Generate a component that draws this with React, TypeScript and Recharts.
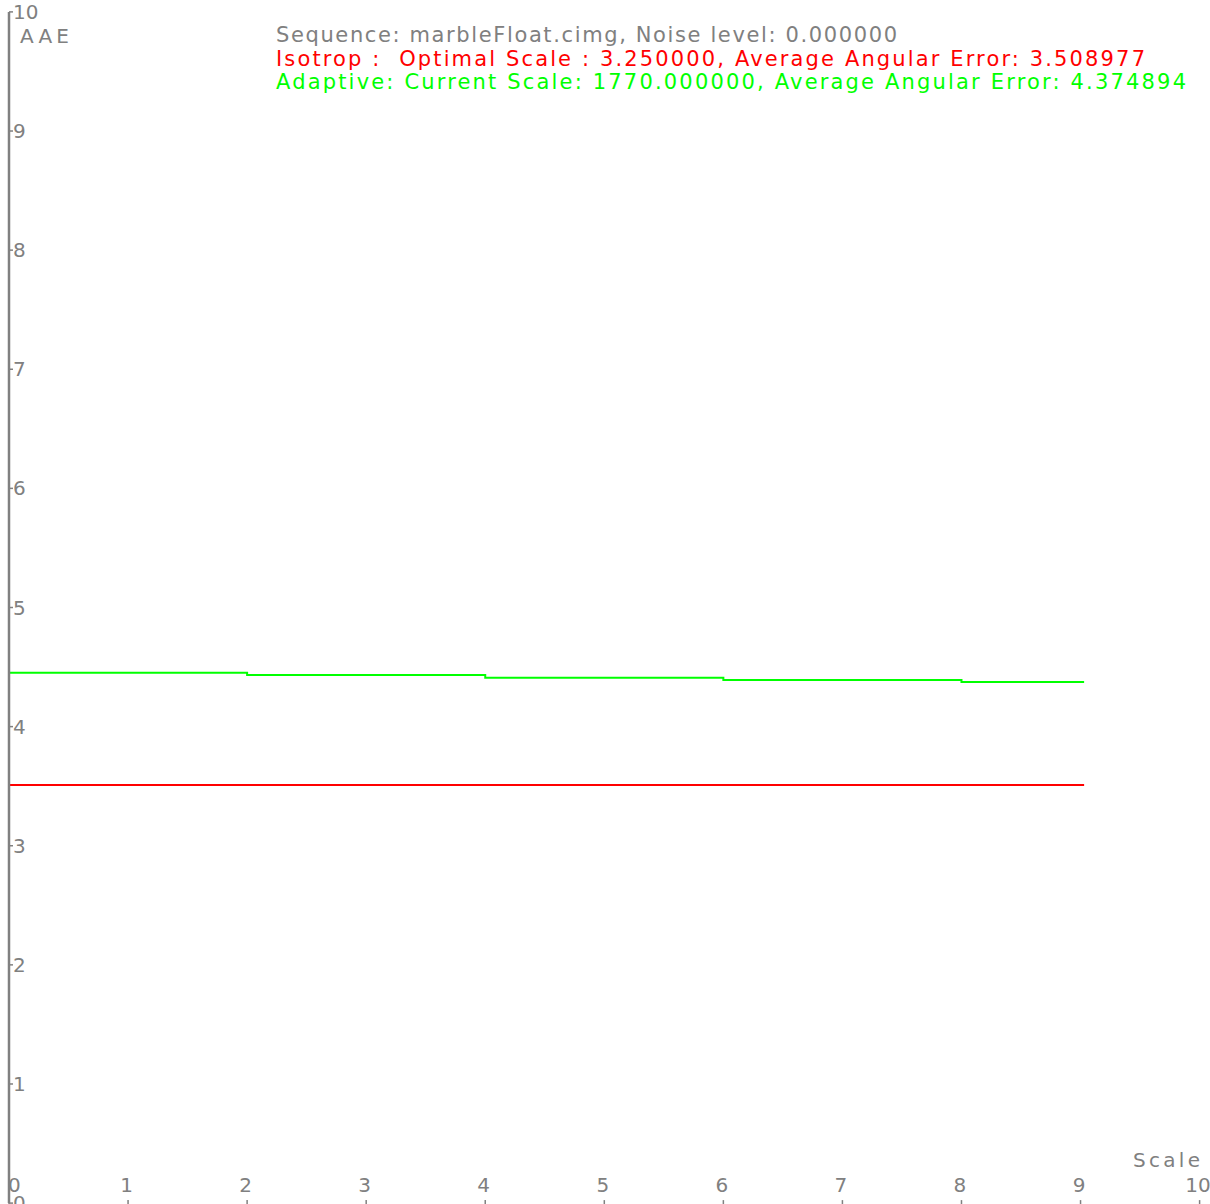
import React from 'react';
import { LineChart, Line, XAxis, YAxis } from 'recharts';

// scale positions where the adaptive error steps down
const scales = [0, 2, 4, 6, 8, 9.03];
const isotropAAE = [3.508977, 3.508977, 3.508977, 3.508977, 3.508977, 3.508977];
const adaptiveAAE = [4.453, 4.433, 4.411, 4.391, 4.375, 4.375];

const xTicks = [0, 1, 2, 3, 4, 5, 6, 7, 8, 9, 10];
const yTicks = [0, 1, 2, 3, 4, 5, 6, 7, 8, 9, 10];

const titleLines = [
  { text: 'Sequence: marbleFloat.cimg, Noise level: 0.000000', color: '#808080', width: 621 },
  { text: 'Isotrop :  Optimal Scale : 3.250000, Average Angular Error: 3.508977', color: '#ff0000', width: 869 },
  { text: 'Adaptive: Current Scale: 1770.000000, Average Angular Error: 4.374894', color: '#00ff00', width: 910 },
];

const data = scales.map((s, i) => ({ scale: s, iso: isotropAAE[i], adapt: adaptiveAAE[i] }));

const FONT = '"DejaVu Sans", sans-serif';
const GRAY = '#808080';

const YTick = (props: any) => {
  const { x, y, payload } = props;
  return (
    <g>
      <line x1={x} y1={y} x2={x + 4} y2={y} stroke={GRAY} strokeWidth={1.5} />
      <text x={x + 4} y={y} dominantBaseline="central" fill={GRAY} fontSize={20} fontFamily={FONT}>
        {payload.value}
      </text>
    </g>
  );
};

const XTick = (props: any) => {
  const { x, y, payload } = props;
  const first = payload.value === 0;
  return (
    <g>
      <line x1={x} y1={y - 3} x2={x} y2={y + 2} stroke={GRAY} strokeWidth={1.5} />
      <text
        x={first ? x - 1 : x - 1.5}
        y={y - 18}
        textAnchor={first ? 'start' : 'middle'}
        dominantBaseline="central"
        fill={GRAY}
        fontSize={20}
        fontFamily={FONT}
      >
        {payload.value}
      </text>
    </g>
  );
};

export default function App() {
  return (
    <div style={{ position: 'absolute', left: 0, top: 0, width: 1210, height: 1204, overflow: 'hidden', background: '#fff' }}>
      <LineChart
        width={1210}
        height={1230}
        data={data}
        margin={{ top: 11.9, left: 8, right: 10.4, bottom: 25.9 }}
      >
        <XAxis
          dataKey="scale"
          type="number"
          domain={[0, 10]}
          ticks={xTicks}
          height={1}
          tickSize={0}
          tickMargin={0}
          tickLine={false}
          axisLine={false}
          tick={<XTick />}
          interval={0}
        />
        <YAxis
          type="number"
          domain={[0, 10]}
          ticks={yTicks}
          width={1}
          tickSize={0}
          tickMargin={0}
          tickLine={false}
          axisLine={{ stroke: GRAY, strokeWidth: 2.5 }}
          tick={<YTick />}
          interval={0}
        />
        <Line
          dataKey="iso"
          type="linear"
          stroke="#ff0000"
          strokeWidth={2}
          dot={false}
          isAnimationActive={false}
        />
        <Line
          dataKey="adapt"
          type="stepAfter"
          stroke="#00ff00"
          strokeWidth={2}
          dot={false}
          isAnimationActive={false}
        />
      </LineChart>
      <svg width={1210} height={1204} style={{ position: 'absolute', left: 0, top: 0, pointerEvents: 'none' }}>
        <text x={20} y={36} dominantBaseline="central" fill={GRAY} fontSize={20} fontFamily={FONT} textLength={49} lengthAdjust="spacing">
          AAE
        </text>
        {titleLines.map((l, i) => (
          <text
            key={i}
            x={276}
            y={35 + i * 23.5}
            dominantBaseline="central"
            fill={l.color}
            fontSize={21}
            fontFamily={FONT}
            textLength={l.width}
            lengthAdjust="spacing"
            style={{ whiteSpace: 'pre' }}
          >
            {l.text}
          </text>
        ))}
        <text x={1133} y={1160} dominantBaseline="central" fill={GRAY} fontSize={20} fontFamily={FONT} textLength={67} lengthAdjust="spacing">
          Scale
        </text>
      </svg>
    </div>
  );
}
